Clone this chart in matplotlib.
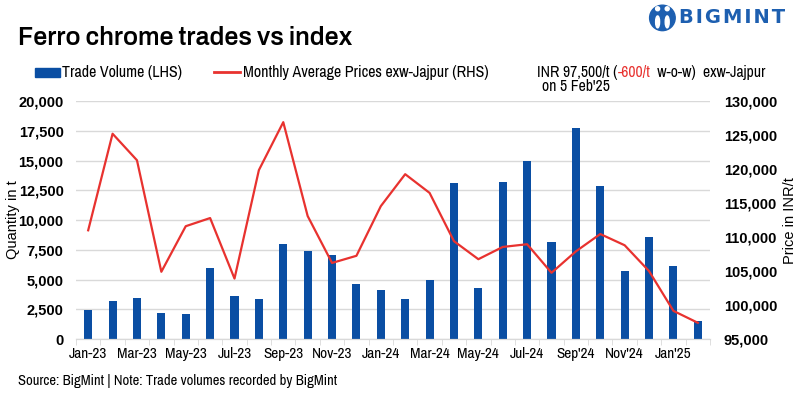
import matplotlib
matplotlib.use("Agg")
import matplotlib.pyplot as plt
from matplotlib.ticker import FuncFormatter, FixedLocator
from matplotlib.patches import Ellipse, Rectangle
from matplotlib.lines import Line2D

months = ["Jan-23", "Feb-23", "Mar-23", "Apr-23", "May-23", "Jun-23", "Jul-23", "Aug-23",
          "Sep-23", "Oct-23", "Nov-23", "Dec-23", "Jan-24", "Feb-24", "Mar-24", "Apr-24",
          "May-24", "Jun-24", "Jul-24", "Aug-24", "Sep'24", "Oct'24", "Nov'24", "Dec'24",
          "Jan'25", "Feb'25"]
volume = [2450, 3200, 3450, 2200, 2100, 6000, 3650, 3350, 8000, 7400, 7050, 4600, 4100,
          3350, 5000, 13100, 4300, 13200, 15000, 8150, 17750, 12850, 5700, 8600, 6150, 1500]
price = [111000, 125200, 121300, 104900, 111600, 112800, 103900, 119850, 126900, 113100,
         106200, 107250, 114550, 119250, 116500, 109400, 106750, 108550, 108950, 104750,
         107900, 110450, 108800, 105000, 99150, 97400]

BLUE = "#0a4ea3"
RED = "#e8322f"
LOGO = "#1d5fb0"
NARROW = ["Archivo Narrow", "DejaVu Sans"]
plt.rcParams["font.family"] = ["Liberation Sans", "DejaVu Sans"]

fig = plt.figure(figsize=(8, 3.98), dpi=100)
ax = fig.add_axes([0.095, 0.148, 0.7925, 0.598])
ax2 = ax.twinx()

x = list(range(len(months)))
ax.bar(x, volume, width=0.33, color=BLUE, zorder=2)
ax2.plot(x, price, color=RED, lw=1.6, zorder=3)

ax.set_xlim(-0.5, len(months) - 0.5)
ax.set_ylim(0, 20000)
ax2.set_ylim(95000, 130000)
ax.set_yticks(range(0, 20001, 2500))
ax2.set_yticks(range(95000, 130001, 5000))
fmt = FuncFormatter(lambda v, p: f"{int(v):,}")
ax.yaxis.set_major_formatter(fmt)
ax2.yaxis.set_major_formatter(fmt)
ax.grid(axis="y", color="#d9d9d9", lw=1, zorder=0)
ax.set_axisbelow(True)

ax.set_xticks(x[::2])
ax.set_xticklabels(months[::2], family=NARROW, fontsize=11)
ax.xaxis.set_minor_locator(FixedLocator([i + 0.5 for i in range(-1, len(months))]))
ax.tick_params(axis="x", which="major", length=0, pad=6)
ax.tick_params(axis="x", which="minor", length=4, color="#d9d9d9")
ax.tick_params(axis="y", length=0, pad=9, labelsize=10.5)
ax2.tick_params(axis="y", length=0, pad=10, labelsize=10.5)
for lab in ax.get_yticklabels() + ax2.get_yticklabels():
    lab.set_fontweight("bold")

for a in (ax, ax2):
    for s in ("top", "left", "right"):
        a.spines[s].set_visible(False)
    a.spines["bottom"].set_color("#d9d9d9")

fig.text(0.016, 0.447, "Quantity in t", fontsize=10.5, rotation=90, ha="center", va="center")
fig.text(0.987, 0.447, "Price in INR/t", fontsize=10.5, rotation=90, ha="center", va="center")

# title and logo
fig.text(0.022, 0.907, "Ferro chrome trades vs index", family=["Archivo", "DejaVu Sans"],
         fontweight="semibold", fontsize=18, va="center")
fig.patches.append(Ellipse((0.828, 0.955), 0.032, 0.064, transform=fig.transFigure,
                           color=LOGO, figure=fig))
for dx in (-0.006, 0.006):
    fig.patches.append(Ellipse((0.828 + dx, 0.945), 0.005, 0.03, transform=fig.transFigure,
                               color="white", figure=fig))
    fig.patches.append(Ellipse((0.828 + dx, 0.978), 0.005, 0.01, transform=fig.transFigure,
                               color="white", figure=fig))
fig.text(0.849, 0.955, "B I G M I N T".replace(" ", "\u200a"), color=LOGO,
         family=["DejaVu Sans"], fontweight="bold", fontsize=14, va="center")

# legend
fig.patches.append(Rectangle((0.044, 0.807), 0.031, 0.022, transform=fig.transFigure,
                             color=BLUE, figure=fig))
fig.text(0.077, 0.818, "Trade Volume (LHS)", family=NARROW, fontsize=11.5, va="center")
fig.lines.append(Line2D([0.268, 0.3], [0.818, 0.818], transform=fig.transFigure,
                        color=RED, lw=2, figure=fig))
fig.text(0.304, 0.818, "Monthly Average Prices exw-Jajpur (RHS)", family=NARROW,
         fontsize=11.5, va="center")

# annotation with coloured part
parts = [("INR 97,500/t (", "black"), ("-600/t", RED), ("  w-o-w)  exw-Jajpur", "black")]
fig.canvas.draw()
r = fig.canvas.get_renderer()
xpos = 0.6715
for s, c in parts:
    t = fig.text(xpos, 0.818, s, family=NARROW, fontsize=11.3, va="center", color=c)
    bb = t.get_window_extent(renderer=r)
    xpos += bb.width / fig.bbox.width
fig.text(0.677, 0.783, "on 5 Feb'25", family=NARROW, fontsize=11.3, va="center")

fig.text(0.022, 0.043, "Source: BigMint | Note: Trade volumes recorded by BigMint",
         family=NARROW, fontsize=10.5, va="center")

fig.savefig("out.png", dpi=100)
